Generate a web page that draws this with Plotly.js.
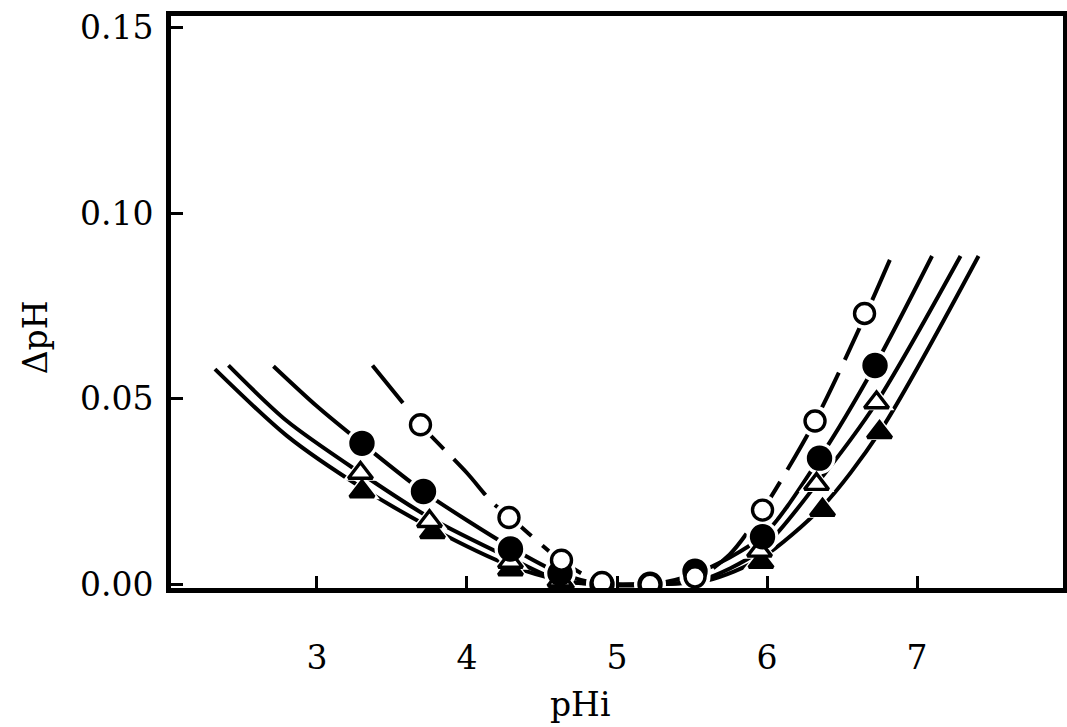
<!DOCTYPE html>
<html>
<head>
<meta charset="utf-8">
<script src="https://cdn.plot.ly/plotly-3.0.1.min.js"></script>
<style>html,body{margin:0;padding:0;background:#fff}#plot{width:1067px;height:727px}</style>
</head>
<body>
<div id="plot"></div>
<script>
// Fitted curves
const curveOpenCircleX = [3.37, 3.59, 3.69, 4.0, 4.17, 4.29, 4.64, 4.9, 5.2, 5.5, 5.75, 5.97, 6.32, 6.65, 6.83];
const curveOpenCircleY = [0.059, 0.048, 0.043, 0.030, 0.022, 0.018, 0.006, 0.0005, 0.0, 0.001, 0.008, 0.020, 0.044, 0.072, 0.0885];
const curveFilledCircleX = [2.71, 3.0, 3.30, 3.71, 4.29, 4.62, 4.9, 5.23, 5.53, 5.97, 6.35, 6.72, 7.10];
const curveFilledCircleY = [0.0588, 0.048, 0.038, 0.025, 0.010, 0.003, 0.0, 0.0, 0.003, 0.013, 0.034, 0.059, 0.0885];
const curveOpenTriX = [2.41, 2.8, 3.29, 3.75, 4.29, 4.62, 4.9, 5.2, 5.55, 5.95, 6.33, 6.73, 7.29];
const curveOpenTriY = [0.059, 0.044, 0.030, 0.018, 0.007, 0.001, 0.0, 0.0, 0.001, 0.009, 0.027, 0.049, 0.0885];
const curveFilledTriX = [2.32, 2.8, 3.30, 3.77, 4.29, 4.63, 4.9, 5.2, 5.6, 5.96, 6.37, 6.75, 7.41];
const curveFilledTriY = [0.058, 0.040, 0.026, 0.015, 0.005, 0.001, 0.0, 0.0, 0.001, 0.007, 0.021, 0.041, 0.0885];

// Measured points
const openCircleX = [3.69, 4.28, 4.63, 4.9, 5.22, 5.52, 5.97, 6.32, 6.65];
const openCircleY = [0.043, 0.018, 0.0065, 0.0005, 0.0, 0.002, 0.020, 0.044, 0.073];
const filledCircleX = [3.30, 3.71, 4.29, 4.62, 4.9, 5.22, 5.52, 5.97, 6.35, 6.72];
const filledCircleY = [0.038, 0.025, 0.0095, 0.003, 0.0, 0.0, 0.0035, 0.0128, 0.034, 0.059];
const openTriX = [3.29, 3.75, 4.29, 4.62, 5.95, 6.33, 6.73];
const openTriY = [0.030, 0.017, 0.006, 0.001, 0.009, 0.027, 0.049];
const filledTriX = [3.30, 3.77, 4.29, 4.63, 5.96, 6.37, 6.75];
const filledTriY = [0.025, 0.014, 0.004, 0.0005, 0.006, 0.020, 0.041];

const xTicks = [3, 4, 5, 6, 7];
const yTicks = [0.00, 0.05, 0.10, 0.15];
const yTickText = ['0.00', '0.05', '0.10', '0.15'];

const FONT = 'DejaVu Serif, Liberation Serif, serif';
const LW = 4;

function curve(x, y, dash) {
  return {x: x, y: y, mode: 'lines', type: 'scatter', hoverinfo: 'skip',
    line: {color: '#000', width: LW, shape: 'spline', smoothing: 0.8, dash: dash}};
}
function halo(x, y, sym, size) {
  return {x: x, y: y, mode: 'markers', type: 'scatter', hoverinfo: 'skip',
    marker: {symbol: sym, size: size + 9, color: '#fff', line: {width: 0}}};
}
function pts(x, y, sym, size, fill) {
  return {x: x, y: y, mode: 'markers', type: 'scatter',
    marker: {symbol: sym, size: size, color: fill, line: {color: '#000', width: 3.4}}};
}

const data = [
  curve(curveOpenCircleX, curveOpenCircleY, '48px,14px'),
  curve(curveFilledCircleX, curveFilledCircleY, 'solid'),
  curve(curveOpenTriX, curveOpenTriY, 'solid'),
  curve(curveFilledTriX, curveFilledTriY, 'solid'),
  halo(openCircleX, openCircleY, 'circle', 22),
  halo(filledCircleX, filledCircleY, 'circle', 23),
  halo(openTriX, openTriY, 'triangle-up', 22),
  halo(filledTriX, filledTriY, 'triangle-up', 22),
  pts(filledTriX, filledTriY, 'triangle-up', 21, '#000'),
  pts(openTriX, openTriY, 'triangle-up', 21, '#fff'),
  pts(filledCircleX, filledCircleY, 'circle', 22, '#000'),
  pts(openCircleX, openCircleY, 'circle', 20, '#fff')
];

const layout = {
  width: 1067, height: 727,
  margin: {l: 171, r: 4, t: 16, b: 139},
  paper_bgcolor: '#fff', plot_bgcolor: '#fff',
  showlegend: false,
  font: {family: FONT, color: '#000', size: 32},
  xaxis: {
    range: [2.027, 7.973], tickvals: xTicks, ticktext: xTicks.map(String),
    ticks: 'inside', ticklen: 12, tickwidth: 3, tickcolor: '#000',
    showline: true, linecolor: '#000', linewidth: 5, mirror: true,
    showgrid: false, zeroline: false,
    tickfont: {family: FONT, size: 33, color: '#000'},
    ticklabelstandoff: 36
  },
  yaxis: {
    range: [-0.001, 0.1532], tickvals: yTicks, ticktext: yTickText,
    ticks: 'inside', ticklen: 12, tickwidth: 3, tickcolor: '#000',
    showline: true, linecolor: '#000', linewidth: 5, mirror: true,
    showgrid: false, zeroline: false,
    tickfont: {family: FONT, size: 33, color: '#000'},
    ticklabelstandoff: 6
  },
  annotations: [
    {text: 'pHi', xref: 'paper', yref: 'paper', x: 0.4585, y: -0.2045,
     xanchor: 'center', yanchor: 'middle', showarrow: false,
     font: {family: FONT, size: 33, color: '#000'}},
    {text: 'ΔpH', xref: 'paper', yref: 'paper', x: -0.152, y: 0.439,
     xanchor: 'center', yanchor: 'middle', showarrow: false, textangle: -90,
     font: {family: FONT, size: 33, color: '#000'}}
  ]
};

Plotly.newPlot('plot', data, layout, {displayModeBar: false, staticPlot: true});
</script>
</body>
</html>
